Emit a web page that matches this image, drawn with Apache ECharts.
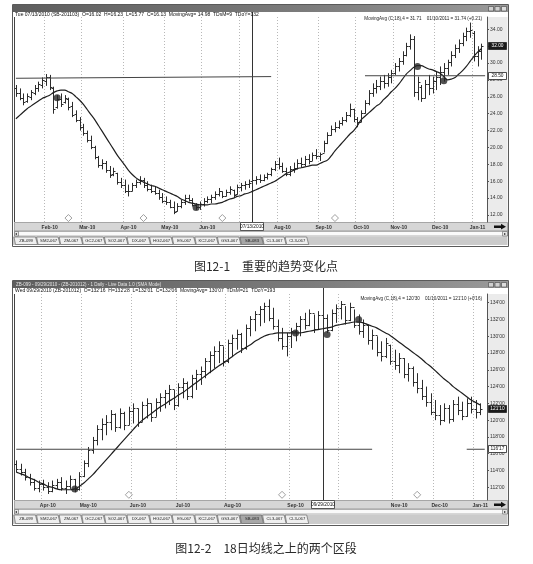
<!DOCTYPE html>
<html><head><meta charset="utf-8">
<script src="https://cdn.jsdelivr.net/npm/echarts@6/dist/echarts.min.js"></script>
<style>html,body{margin:0;padding:0;background:#fff}#c{width:533px;height:564px}</style>
</head><body><div id="c"></div>
<script>
// ---------------- DATA: chart 1 (sugar, SB) ----------------
const topOpen = [27.0,26.4,25.9,25.5,26.0,26.5,27.0,27.4,27.9,28.3, 27.0,24.8,25.8,25.4,25.8,24.9,24.0,23.3,22.4,21.7, 20.9,20.0,18.9,17.9,18.2,17.3,16.8,17.0,15.9,15.5, 14.9,14.9,15.5,15.9,16.1,15.5,15.1,14.9,14.6,14.1, 13.7,13.5,13.0,12.5,13.1,13.5,14.0,13.8,13.2,12.9, 13.3,13.7,13.9,14.1,14.5,14.8,14.3,14.7,15.0,14.5, 15.3,15.5,15.7,16.0,16.1,16.3,16.2,16.5,16.8,17.4, 18.1,17.8,17.2,16.9,17.5,17.6,18.2,18.0,18.6,18.4, 19.1,19.0,19.4,20.5,21.5,22.2,22.4,22.9,23.2,23.9, 24.6,23.4,23.0,24.1,25.3,26.4,27.0,27.3,27.9,27.6, 28.3,28.8,29.6,30.2,31.0,32.0,32.8,26.6,27.2,25.9, 27.5,27.0,27.9,28.4,28.9,29.4,30.1,31.0,31.8,32.4, 33.2,33.8,33.6,30.8,31.4];
const topHigh = [27.4,27.0,26.4,26.4,26.8,27.4,27.8,28.3,28.7,28.6, 27.2,26.2,26.4,26.2,25.9,25.4,24.4,23.6,22.8,22.0, 21.4,20.2,19.0,18.6,18.4,17.8,17.6,17.0,16.4,16.2, 15.6,15.8,16.2,16.6,16.4,16.0,15.6,15.4,15.0,14.6, 14.2,13.8,13.6,13.4,13.8,14.4,14.4,14.0,13.4,13.6, 14.0,14.2,14.4,14.8,15.2,14.8,15.0,15.4,15.0,15.6, 15.8,16.0,16.2,16.3,16.6,16.8,16.8,17.0,17.6,18.4, 18.8,18.2,17.6,17.8,18.2,18.6,18.8,19.0,19.2,19.4, 19.8,19.4,20.8,21.8,22.6,23.0,23.2,23.6,24.2,25.2, 24.6,23.6,24.4,25.6,26.8,27.6,28.0,28.4,28.6,28.8, 29.2,30.0,30.6,31.4,32.4,33.4,33.2,28.4,27.4,28.0, 28.6,28.4,29.0,29.6,30.0,30.4,31.4,32.2,32.8,33.6, 34.2,34.8,33.8,32.0,32.3];
const topLow = [26.0,25.6,25.0,25.3,25.6,26.2,26.6,27.0,27.3,26.8, 24.0,24.6,24.8,25.2,24.4,23.6,23.0,22.0,21.4,20.6, 19.8,18.6,17.6,17.4,17.0,16.4,16.6,15.6,15.2,14.6, 14.2,14.8,15.2,15.6,15.2,14.8,14.6,14.4,13.8,13.4, 13.2,12.8,12.1,12.4,12.8,13.2,13.6,13.0,12.6,12.6, 13.0,13.4,13.4,13.8,14.2,14.0,14.2,14.4,14.0,14.4, 14.8,15.0,15.2,15.7,15.6,15.8,16.0,16.2,16.6,17.2, 17.4,17.0,16.6,16.6,17.0,17.4,17.6,17.8,18.0,18.4, 18.6,18.4,19.4,20.4,21.4,21.8,22.2,22.6,23.0,23.6, 23.0,22.4,23.0,24.0,25.0,26.0,26.4,26.8,27.0,27.2, 27.6,28.6,29.0,29.8,30.8,31.6,26.0,25.6,25.4,25.8, 26.2,26.4,26.8,27.4,27.8,28.6,29.6,30.6,31.2,32.0, 32.6,33.0,30.2,29.6,30.4];
const topClose = [26.4,25.9,25.4,26.1,26.6,27.1,27.5,28.0,28.3,27.2, 24.6,25.8,25.2,25.9,24.8,23.9,23.3,22.4,21.7,20.9, 20.1,18.9,17.9,18.2,17.3,16.7,17.2,15.9,15.5,14.9, 14.8,15.5,15.9,16.1,15.5,15.1,14.9,14.6,14.1,13.7, 13.5,13.0,12.4,13.1,13.5,14.0,13.8,13.2,12.9,13.3, 13.7,13.9,14.1,14.5,14.8,14.3,14.7,15.1,14.4,15.3, 15.5,15.7,15.8,16.1,16.3,16.2,16.5,16.8,17.4,18.1, 17.8,17.2,16.9,17.5,17.6,18.2,18.0,18.6,18.4,19.1, 19.0,19.2,20.5,21.5,22.2,22.4,22.9,23.2,23.9,24.6, 23.4,23.0,24.1,25.3,26.4,27.0,27.3,27.9,27.6,28.3, 28.8,29.6,30.2,31.0,32.0,32.8,26.6,27.8,25.9,27.5, 27.0,27.9,28.4,28.9,29.4,30.1,31.0,31.8,32.4,33.2, 33.8,33.9,30.8,31.4,32.0];
const topMA = [23.4,23.8,24.2,24.6,24.9,25.2,25.5,25.8,26.0,26.2, 26.5,26.7,26.8,26.8,26.6,26.4,26.0,25.6,25.1,24.5, 23.9,23.3,22.6,21.9,21.2,20.5,19.8,19.1,18.5,17.9, 17.3,16.8,16.4,16.1,15.9,15.7,15.5,15.4,15.2,15.0, 14.8,14.6,14.4,14.2,13.9,13.7,13.5,13.4,13.3,13.2, 13.2,13.2,13.3,13.3,13.4,13.5,13.7,13.9,14.0,14.2, 14.3,14.5,14.6,14.8,15.0,15.2,15.4,15.6,15.8,16.0, 16.3,16.6,16.9,17.1,17.3,17.5,17.6,17.7,17.8,17.9, 17.9,18.1,18.3,18.5,19.0,19.6,20.1,20.6,21.1,21.6, 22.0,22.6,23.3,23.7,24.1,24.5,24.9,25.2,25.7,26.1, 26.6,27.0,27.5,28.1,28.7,29.1,29.5,29.7,29.7,29.5, 29.3,29.2,29.0,28.8,28.4,28.0,28.1,28.3,28.7,29.1, 29.6,30.2,30.8,31.3,31.7];
const topDots = [[11,25.9],[48,12.9],[107,29.6],[114,27.9]];
const topDiamonds = [14,34,55,85];
const topLineLeft = [[0,28.2],[68,28.4]];
const topLineRight = [[93,28.5],[125,28.5]];
const topLineBoxValue = 28.5;
const topCursorIdx = 63;
const topCursorDate = '07/13/2010';
const topMonthLabels = ['Feb-10','Mar-10','Apr-10','May-10','Jun-10','Aug-10','Sep-10','Oct-10','Nov-10','Dec-10','Jan-11'];
const topMonthLabelIdx = [9,19,30,41,51,71,82,92,102,113,123];
const topMonthGridIdx = [8,18,29,40,50,60,70,81,91,101,112,122];
const topYTicks = [12,14,16,18,20,22,24,26,28,30,32,34];

// ---------------- DATA: chart 2 (bond, ZB) ----------------
const botOpen = [114.8,114.2,113.8,113.2,112.6,111.9,112.4,112.0,111.5,112.3, 112.6,111.9,112.2,113.0,111.8,113.4,114.9,116.4,117.6,118.9, 119.6,119.8,120.7,119.2,120.9,119.4,121.1,121.5,119.8,121.8, 122.1,120.4,122.2,122.8,123.2,123.7,121.8,124.0,124.4,122.9, 125.0,125.5,125.9,127.0,127.8,128.3,128.9,127.0,129.2,129.8, 130.3,128.6,131.0,132.0,132.6,133.2,133.6,132.2,131.2,129.8, 128.8,130.0,130.6,131.2,132.0,131.4,132.8,130.9,132.5,132.2, 130.8,132.8,133.4,133.8,131.9,133.5,131.4,130.6,131.4,129.5, 130.2,128.1,127.6,129.0,127.0,126.6,127.4,125.5,126.2,124.5, 123.8,122.9,122.2,121.0,120.6,120.0,121.5,120.1,121.9,121.2, 120.5,122.0,121.3,121.0];
const botHigh = [115.2,114.8,114.2,113.6,113.0,112.8,112.9,112.6,112.8,113.0, 113.2,112.8,113.4,113.0,113.8,115.2,116.8,118.0,119.4,120.2, 120.6,121.2,120.8,121.4,121.0,121.6,122.0,121.4,122.2,122.6, 122.0,122.6,123.2,123.6,124.2,123.6,124.4,125.0,124.6,125.4, 126.0,126.4,127.4,128.2,128.8,129.4,128.8,129.6,130.2,130.8, 130.4,131.4,132.4,133.0,133.6,134.0,134.4,133.4,132.0,131.0, 130.4,131.0,131.6,132.4,132.8,133.2,132.6,133.0,133.4,132.6, 133.2,133.8,134.2,133.6,134.0,133.2,132.6,132.0,131.4,130.8, 130.0,129.4,129.8,129.0,128.4,128.0,127.4,126.8,126.4,125.6, 124.8,124.0,123.2,122.4,121.8,122.0,121.8,122.4,122.8,122.2, 122.6,122.8,122.4,122.0];
const botLow = [113.8,113.4,112.8,112.2,111.6,111.4,111.6,111.2,111.4,111.8, 111.6,111.2,111.8,111.4,111.6,113.2,114.4,116.0,117.0,117.6, 118.2,118.8,118.6,119.0,118.8,119.4,119.6,119.2,119.8,120.2, 119.8,120.4,121.0,121.4,121.8,121.2,121.6,122.6,122.4,122.6, 123.6,124.2,125.0,125.6,126.2,126.8,126.4,126.8,127.6,128.4, 128.0,128.4,130.0,130.6,131.2,131.6,131.8,130.8,129.4,128.4, 127.6,128.6,129.4,130.0,130.8,131.2,130.4,130.8,131.6,130.4, 130.6,131.6,132.0,131.4,131.8,131.0,130.2,129.8,129.0,128.4, 127.6,127.0,127.4,126.6,126.0,125.6,125.0,124.6,124.0,123.2, 122.4,121.6,120.6,120.0,119.4,119.8,119.6,119.8,120.6,120.0, 120.4,120.8,120.2,120.6];
const botClose = [114.2,113.8,113.2,112.6,111.9,112.4,112.0,111.5,112.3,112.6, 111.9,112.2,113.0,111.8,113.4,114.9,116.4,117.6,118.9,119.6, 119.8,120.7,119.2,120.9,119.4,121.1,121.5,119.8,121.8,122.1, 120.4,122.2,122.8,123.2,123.7,121.8,124.0,124.4,122.9,125.0, 125.5,125.9,127.0,127.8,128.3,128.9,127.0,129.2,129.8,130.3, 128.6,131.0,132.0,132.6,133.2,133.6,132.2,131.2,129.8,128.8, 130.0,130.6,131.2,132.0,131.4,132.8,130.9,132.5,132.2,130.8, 132.8,133.4,133.8,131.9,133.5,131.4,130.6,131.4,129.5,130.2, 128.1,127.6,129.2,127.0,126.6,127.4,125.5,126.2,124.5,123.8, 122.9,122.2,121.0,120.6,120.0,121.5,120.1,121.9,121.2,120.5, 122.0,121.3,121.0,121.3];
const botMA = [113.8,113.6,113.4,113.1,112.9,112.6,112.4,112.1,112.0,111.8, 111.7,111.7,111.7,111.8,112.1,112.5,113.0,113.5,114.1,114.7, 115.3,115.9,116.5,117.1,117.7,118.3,118.9,119.5,120.0,120.4, 120.8,121.2,121.6,121.9,122.3,122.6,123.0,123.3,123.7,124.1, 124.5,124.9,125.3,125.7,126.1,126.5,126.8,127.2,127.6,128.0, 128.3,128.7,129.0,129.4,129.7,130.0,130.2,130.3,130.4,130.4, 130.4,130.4,130.4,130.4,130.5,130.6,130.7,130.8,130.9,131.0, 131.1,131.3,131.4,131.5,131.6,131.7,131.7,131.6,131.4,131.2, 131.0,130.7,130.4,130.1,129.7,129.3,128.9,128.5,128.1,127.7, 127.3,126.8,126.4,125.9,125.4,124.9,124.5,124.0,123.6,123.2, 122.8,122.4,122.1,121.8];
const botDots = [[13,111.8],[62,130.4],[69,130.2],[76,132.0]];
const botDiamonds = [25,59,89];
const botLineLeft = [[0,116.53],[79,116.53]];
const botLineRight = [[100,116.53],[104,116.53]];
const botLineBoxValue = 116.53;
const botCursorIdx = 68;
const botCursorDate = '09/29/2010';
const botMonthLabels = ['Apr-10','May-10','Jun-10','Jul-10','Aug-10','Sep-10','Nov-10','Dec-10','Jan-11'];
const botMonthLabelIdx = [7,16,27,37,48,62,85,94,103];
const botMonthGridIdx = [6,15,26,36,47,61,72,84,93,102];
const botYTicks = [112,114,116,118,120,122,124,126,128,130,132,134];

const tabNames = ['ZB-099','SM2-067','ZM-067','GC2-067','SO2-067','DX-067','HG2-067','ES-067','KC2-067','GS3-067','SB-083','CL3-067','CL3-067'];
const topHeader = 'Tue 07/13/2010 (SB-201103)  O=16.02  H=16.23  L=15.77  C=16.13  MovingAvg= 14.98  TDsM=9  TDoY=132';
const topInfo = 'MovingAvg (C,18),4 = 31.71    01/10/2011 = 31.74 (+0.21)';
const botTitle = 'ZB-099 - 09/29/2010 - (ZB-201012) - 1 Daily - Live Data 1.0 (SMA Mode)';
const botHeader = "Wed 09/29/2010 (ZB-201012)  O=132'16  H=132'28  L=132'01  C=132'06  MovingAvg= 130'07  TDsM=21  TDoY=193";
const botInfo = "MovingAvg (C,18),4 = 120'30    01/10/2011 = 121'10 (+0'16)";
const caption1 = '图12-1　重要的趋势变化点';
const caption2 = '图12-2　18日均线之上的两个区段';

// ---------------- helpers ----------------
const FONT = 'Liberation Sans, Arial, sans-serif';
const fmt32 = v => { const w = Math.floor(v); let f = Math.round((v - w) * 32); return w + "'" + (f < 10 ? '0' : '') + f; };
function ohlcItem(params, api) {
  const i = api.value(0);
  const o = api.coord([i, api.value(1)]);
  const h = api.coord([i, api.value(2)]);
  const l = api.coord([i, api.value(3)]);
  const c = api.coord([i, api.value(4)]);
  const bw = api.size([1, 0])[0];
  const t = Math.max(1, Math.round(bw * 0.4));
  const x = Math.round(h[0]) + 0.5;
  const st = { stroke: '#2c2c2c', lineWidth: 1 };
  const yo = Math.round(o[1]) + 0.5, yc = Math.round(c[1]) + 0.5;
  return { type: 'group', children: [
    { type: 'line', shape: { x1: x, y1: h[1], x2: x, y2: l[1] }, style: st },
    { type: 'line', shape: { x1: x - t, y1: yo, x2: x, y2: yo }, style: st },
    { type: 'line', shape: { x1: x, y1: yc, x2: x + t, y2: yc }, style: st }
  ]};
}
function buildSeries(gi, O, H, L, C, MA, dots, diamonds, l1, l2, diaY) {
  const data = O.map((o, i) => [i, o, H[i], L[i], C[i]]);
  return [
    { type: 'custom', xAxisIndex: gi, yAxisIndex: gi, renderItem: ohlcItem, data: data,
      encode: { x: 0, y: [1, 2, 3, 4] }, z: 4, silent: true },
    { type: 'line', xAxisIndex: gi, yAxisIndex: gi, data: MA.map((v, i) => [i, v]), smooth: 0.4,
      showSymbol: false, lineStyle: { color: '#1e1e1e', width: 1.2 }, z: 5, silent: true },
    { type: 'line', xAxisIndex: gi, yAxisIndex: gi, data: l1, showSymbol: false,
      lineStyle: { color: '#444', width: 1 }, z: 5, silent: true },
    { type: 'line', xAxisIndex: gi, yAxisIndex: gi, data: l2, showSymbol: false,
      lineStyle: { color: '#444', width: 1 }, z: 5, silent: true },
    { type: 'scatter', xAxisIndex: gi, yAxisIndex: gi, data: dots, symbolSize: 7,
      itemStyle: { color: '#262626' }, z: 6, silent: true },
    { type: 'scatter', xAxisIndex: gi, yAxisIndex: gi, data: diamonds.map(i => [i, diaY]), symbol: 'diamond',
      symbolSize: 7, itemStyle: { color: '#fff', borderColor: '#888', borderWidth: 1 }, z: 6, silent: true }
  ];
}
function xAxisCfg(gi, n, labels, labelIdx, gridIdx) {
  const cats = Array.from({ length: n }, (_, i) => String(i));
  return { type: 'category', gridIndex: gi, data: cats, boundaryGap: true, z: 3,
    axisLine: { show: false }, axisTick: { show: false },
    axisLabel: { interval: (i) => labelIdx.indexOf(i) >= 0, margin: 3,
      formatter: (v, i) => { const k = labelIdx.indexOf(+v); return k >= 0 ? labels[k] : ''; },
      fontSize: 5, fontFamily: FONT, fontWeight: 'bold', color: '#333' },
    splitLine: { show: true, interval: (i) => gridIdx.indexOf(i) >= 0,
      lineStyle: { color: '#b8b8b8', type: [1, 2], width: 1 } } };
}
function yAxisCfg(gi, min, max, ticks, f) {
  return { type: 'value', gridIndex: gi, position: 'right', min: min, max: max, z: 3,
    axisLine: { show: true, lineStyle: { color: '#555', width: 1 } },
    axisTick: { show: true, length: 2, customValues: ticks, lineStyle: { color: '#555' } },
    axisLabel: { customValues: ticks, formatter: f, margin: 3, fontSize: 5, fontFamily: FONT, color: '#333' },
    splitLine: { show: false } };
}

const chart = echarts.init(document.getElementById('c'), null, { renderer: 'canvas' });
const G = [
  { left: 14, top: 17, width: 473, height: 205 },
  { left: 14, top: 294, width: 473, height: 206 }
];
chart.setOption({
  animation: false,
  backgroundColor: '#ffffff',
  grid: G.map(g => Object.assign({ show: false }, g)),
  xAxis: [ xAxisCfg(0, topOpen.length + 1, topMonthLabels, topMonthLabelIdx, topMonthGridIdx),
           xAxisCfg(1, botOpen.length + 1, botMonthLabels, botMonthLabelIdx, botMonthGridIdx) ],
  yAxis: [ yAxisCfg(0, 11.17, 35.46, topYTicks, v => v.toFixed(2)),
           yAxisCfg(1, 110.48, 135.04, botYTicks, v => fmt32(v)) ],
  series: [].concat(
    buildSeries(0, topOpen, topHigh, topLow, topClose, topMA, topDots, topDiamonds, topLineLeft, topLineRight, 11.64),
    buildSeries(1, botOpen, botHigh, botLow, botClose, botMA, botDots, botDiamonds, botLineLeft, botLineRight, 111.1))
});

// ---------------- chrome (window frames, strips, tabs, boxes) ----------------
const els = [];
function txt(x, y, s, o) {
  els.push(Object.assign({ type: 'text', x: x, y: y, z: 30, silent: true,
    style: Object.assign({ text: s, fontSize: 5, fontFamily: FONT, fill: '#222', textVerticalAlign: 'middle' }, o || {}) }));
}
function rect(x, y, w, h, fill, stroke, z, lw) {
  els.push({ type: 'rect', z: z == null ? 1 : z, silent: true, shape: { x: x, y: y, width: w, height: h },
    style: { fill: fill, stroke: stroke || null, lineWidth: lw || 1 } });
}
function panel(p) {
  const L = 12, R = 508, W = R - L;
  rect(L + 0.5, p.top + 0.5, W, p.bottom - p.top, '#fff', '#5a5a5a', 0);
  els.push({ type: 'rect', z: 1, silent: true, shape: { x: L + 1, y: p.top + 1, width: W - 1, height: 7 },
    style: { fill: new echarts.graphic.LinearGradient(0, 0, 1, 0, [{ offset: 0, color: '#5e5e5e' }, { offset: 0.6, color: '#7c7c7c' }, { offset: 1, color: '#9a9a9a' }]) } });
  [0, 1, 2].forEach(k => rect(488.5 + k * 6.5, p.top + 2.5, 5, 4.5, k === 2 ? '#ddd' : '#cfcfcf', '#444', 2, 0.6));
  if (p.title) txt(16, p.top + 4.8, p.title, { fill: '#e4e4e4', fontSize: 4.5 });
  txt(15, p.header, p.headerText, { fontSize: 5, fill: '#111' });
  txt(482, p.info, p.infoText, { fontSize: 4.6, fill: '#222', align: 'right' });
  els.push({ type: 'line', z: 2, silent: true, shape: { x1: 14.5, y1: p.plotTop, x2: 14.5, y2: p.plotBottom }, style: { stroke: '#444', lineWidth: 1 } });
  rect(487.5, p.plotTop, 20, p.plotBottom - p.plotTop, '#ebebeb', null, 1);
  rect(14.5, p.plotBottom + 0.5, 493, 8.5, '#d6d6d6', '#777', 1, 0.6);
  els.push({ type: 'polygon', z: 30, silent: true, shape: { points: [[494, p.plotBottom + 3.5], [501, p.plotBottom + 3.5], [501, p.plotBottom + 1.8], [506, p.plotBottom + 4.8], [501, p.plotBottom + 7.6], [501, p.plotBottom + 6], [494, p.plotBottom + 6]] }, style: { fill: '#111' } });
  const sy = p.plotBottom + 9;
  rect(14.5, sy + 0.5, 493, 4.5, '#fafafa', '#888', 1, 0.6);
  rect(14.5, sy + 0.5, 4, 4.5, '#e6e6e6', '#666', 2, 0.6);
  rect(502.5, sy + 0.5, 5, 4.5, '#e6e6e6', '#666', 2, 0.6);
  txt(15.3, sy + 2.9, '◂', { fontSize: 4, fill: '#222' });
  txt(503.8, sy + 2.9, '▸', { fontSize: 4, fill: '#222' });
  const ty = sy + 5.5, th = p.bottom - ty - 1;
  rect(13, ty, 494.5, th, '#cbcbcb', null, 1);
  tabNames.forEach((n, k) => {
    const x0 = 14 + k * 22.6;
    els.push({ type: 'polygon', z: 2, silent: true,
      shape: { points: [[x0, ty + 0.5], [x0 + 21.5, ty + 0.5], [x0 + 23.5, ty + th - 0.5], [x0 + 1.5, ty + th - 0.5]] },
      style: { fill: k === 10 ? '#a7a7a7' : '#efefef', stroke: '#555', lineWidth: 0.6 } });
    txt(x0 + 12, ty + th / 2, n, { fontSize: 4.2, align: 'center', fill: '#222' });
  });
}
panel({ top: 4, bottom: 246, header: 14.5, info: 18.5, plotTop: 17, plotBottom: 222,
  headerText: topHeader, infoText: topInfo });
panel({ top: 280, bottom: 525, header: 290.5, info: 298.5, plotTop: 294, plotBottom: 500,
  title: botTitle, headerText: botHeader, infoText: botInfo });

function yBox(gi, v, s, dark) {
  const y = chart.convertToPixel({ yAxisIndex: gi }, v);
  rect(488.5, Math.round(y) - 3.5, 18, 7, dark ? '#1a1a1a' : '#fff', '#222', 40, 0.8);
  txt(497.5, Math.round(y), s, { fontSize: 4.8, align: 'center', fill: dark ? '#fff' : '#111' });
  els[els.length - 1].z = 41;
}
// cursor line (through the axis-converted position of the cursor bar) and its date box
function cursor(gi, idx, s, lineTop, stripTop) {
  const x = chart.convertToPixel({ xAxisIndex: gi }, String(idx));
  const xr = Math.round(x) + 0.5;
  els.push({ type: 'line', z: 5, silent: true, shape: { x1: xr, y1: lineTop, x2: xr, y2: stripTop }, style: { stroke: '#333', lineWidth: 1 } });
  rect(Math.round(x) - 11.5, stripTop + 0.5, 23, 8, '#fff', '#333', 40, 0.8);
  txt(Math.round(x), stripTop + 4.5, s, { fontSize: 4.8, align: 'center', fill: '#111' });
  els[els.length - 1].z = 41;
}
yBox(0, topLineBoxValue, topLineBoxValue.toFixed(2), false);
yBox(0, topClose[topClose.length - 1], topClose[topClose.length - 1].toFixed(2), true);
yBox(1, botLineBoxValue, fmt32(botLineBoxValue), false);
yBox(1, botClose[botClose.length - 1], fmt32(botClose[botClose.length - 1]), true);
cursor(0, topCursorIdx, topCursorDate, 12, 222);
cursor(1, botCursorIdx, botCursorDate, 288, 500);

els.push({ type: 'text', x: 266, y: 266, z: 30, silent: true, style: { text: caption1, fontSize: 12, fontFamily: 'Noto Sans CJK SC', fill: '#2a2a2a', align: 'center', textVerticalAlign: 'middle' } });
els.push({ type: 'text', x: 266, y: 548, z: 30, silent: true, style: { text: caption2, fontSize: 12, fontFamily: 'Noto Sans CJK SC', fill: '#2a2a2a', align: 'center', textVerticalAlign: 'middle' } });

chart.setOption({ graphic: { elements: els } });
</script></body></html>
